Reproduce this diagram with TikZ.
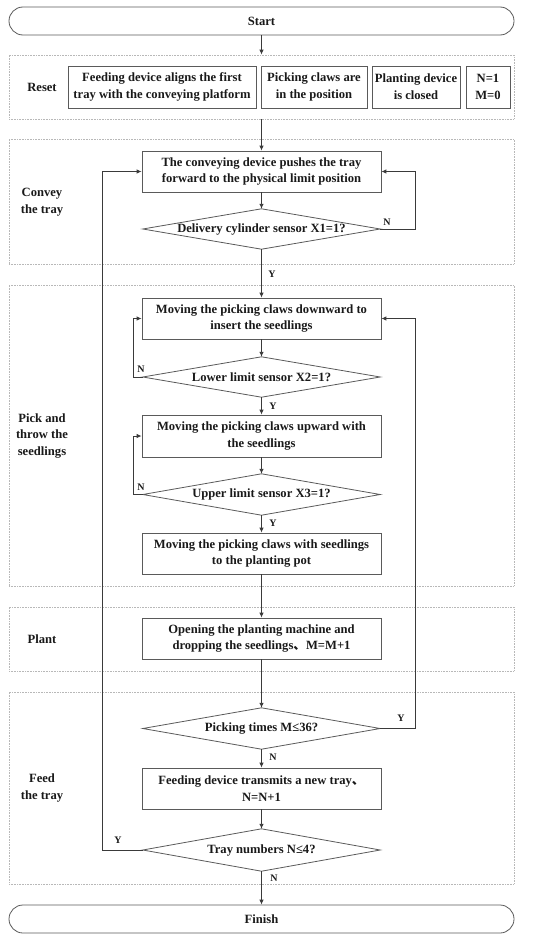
\documentclass[tikz,border=0pt]{standalone}
\usepackage{fontspec}
\setmainfont{Liberation Serif}
\newfontfamily\cjkf{Noto Sans CJK SC}
\usetikzlibrary{arrows.meta}
\definecolor{boxgray}{HTML}{5A5A5A}
\definecolor{grpgray}{HTML}{B8B8B8}
\definecolor{linegray}{HTML}{3A3A3A}
\newcommand{\dunhao}{{\cjkf 、}}
\begin{document}
\begin{tikzpicture}[x=1pt,y=-1pt,
  every node/.style={font=\bfseries\fontsize{12.6}{16.7}\selectfont, text=black!90},
  procbox/.style={draw=boxgray, line width=0.8pt, minimum width=239pt, minimum height=41pt, align=center, inner sep=1pt},
  smallbox/.style={draw=boxgray, line width=0.8pt, minimum height=42pt, align=center, inner sep=0.5pt},
  term/.style={draw=boxgray, line width=0.8pt, rounded corners=14pt, minimum width=505pt, minimum height=28pt},
  grp/.style={draw=grpgray, densely dotted, line width=0.6pt, minimum width=505pt, inner sep=0pt},
  decis/.style={minimum width=237pt, inner sep=0pt, draw=none},
  dshape/.style={draw=boxgray, line width=0.8pt},
  arr/.style={draw=linegray, line width=0.9pt, -{Latex[length=5pt,width=4.5pt]}},
  ln/.style={draw=linegray, line width=0.9pt},
  glabel/.style={align=center},
  yn/.style={font=\bfseries\fontsize{10}{12}\selectfont}
]
\useasboundingbox (0,0) rectangle (550,942);

% groups
\node[grp, minimum height=64pt]  (gReset)  at (261.5,87) {};
\node[grp, minimum height=125pt] (gConvey) at (261.5,201.5) {};
\node[grp, minimum height=301pt] (gPick)   at (261.5,435.5) {};
\node[grp, minimum height=64pt]  (gPlant)  at (261.5,639) {};
\node[grp, minimum height=192pt] (gFeed)   at (261.5,788) {};

% group labels
\node[glabel] (lReset)  at (42,87)  {Reset};
\node[glabel] (lConvey) at (42,202) {Convey\\the tray};
\node[glabel] (lPick)   at (42,436) {Pick and\\throw the\\seedlings};
\node[glabel] (lPlant)  at (42,639) {Plant};
\node[glabel] (lFeed)   at (42,788) {Feed\\the tray};

% terminals
\node[term] (start)  at (261.5,21)  {Start};
\node[term] (finish) at (261.5,919) {Finish};

% reset boxes
\node[smallbox, minimum width=188pt] (r1) at (162,87) {Feeding device aligns the first\\tray with the conveying platform};
\node[smallbox, minimum width=106pt] (r2) at (314,87) {Picking claws are\\in the position};
\node[smallbox, minimum width=88pt]  (r3) at (416,87) {Planting device\\is closed};
\node[smallbox, minimum width=44pt]  (r4) at (488,87) {N=1\\M=0};

% process boxes
\node[procbox] (c1) at (261.5,171.5) {The conveying device pushes the tray\\forward to the physical limit position};
\node[decis, minimum height=40pt] (d1) at (261.5,229) {Delivery cylinder sensor X1=1?};
\node[procbox] (p1) at (261.5,318.5) {Moving the picking claws downward to\\insert the seedlings};
\node[decis, minimum height=40pt] (d2) at (261.5,377) {Lower limit sensor X2=1?};
\node[procbox, minimum height=42pt] (p2) at (261.5,436) {Moving the picking claws upward with\\the seedlings};
\node[decis, minimum height=41pt] (d3) at (261.5,494.5) {Upper limit sensor X3=1?};
\node[procbox] (p3) at (261.5,553.5) {Moving the picking claws with seedlings\\to the planting pot};
\node[procbox] (pl) at (261.5,638.5) {Opening the planting machine and\\dropping the seedlings\dunhao M=M+1};
\node[decis, minimum height=41pt] (d4) at (261.5,728.5) {Picking times M≤36?};
\node[procbox] (f1) at (261.5,788.5) {Feeding device transmits a new tray\dunhao\\N=N+1};
\node[decis, minimum height=42pt] (d5) at (261.5,850) {Tray numbers N≤4?};

% diamond outlines
\foreach \d in {d1,d2,d3,d4,d5}{
  \draw[dshape] (\d.west) -- (\d.north) -- (\d.east) -- (\d.south) -- cycle;
}

% main flow
\draw[arr] (start.south) -- (gReset.north);
\draw[arr] (gReset.south) -- (c1.north);
\draw[arr] (c1.south) -- (d1.north);
\draw[arr] (d1.south) -- (p1.north);
\draw[arr] (p1.south) -- (d2.north);
\draw[arr] (d2.south) -- (p2.north);
\draw[arr] (p2.south) -- (d3.north);
\draw[arr] (d3.south) -- (p3.north);
\draw[arr] (p3.south) -- (pl.north);
\draw[arr] (pl.south) -- (d4.north);
\draw[arr] (d4.south) -- (f1.north);
\draw[arr] (f1.south) -- (d5.north);
\draw[arr] (d5.south) -- (finish.north);

% loops
\coordinate (cR) at (415,0);
\coordinate (cL2) at (133,0);
\coordinate (cL1) at (102,0);
\draw[arr] (d1.east) -- (d1.east -| cR) |- (c1.east);
\draw[arr] (d2.west) -- (d2.west -| cL2) |- (p1.west);
\draw[arr] (d3.west) -- (d3.west -| cL2) |- (p2.west);
\draw[arr] (d4.east) -- (d4.east -| cR) |- (p1.east);
\draw[arr] (d5.west) -- (d5.west -| cL1) |- (c1.west);

% Y/N labels
\node[yn] (n1) at (387,222) {N};
\node[yn] (y1) at (272,274) {Y};
\node[yn] (n2) at (141,369) {N};
\node[yn] (y2) at (273,406) {Y};
\node[yn] (n3) at (141,487) {N};
\node[yn] (y3) at (273,523) {Y};
\node[yn] (y4) at (401,718) {Y};
\node[yn] (n4) at (273,757) {N};
\node[yn] (y5) at (118,840) {Y};
\node[yn] (n5) at (274,878) {N};
\end{tikzpicture}
\end{document}
